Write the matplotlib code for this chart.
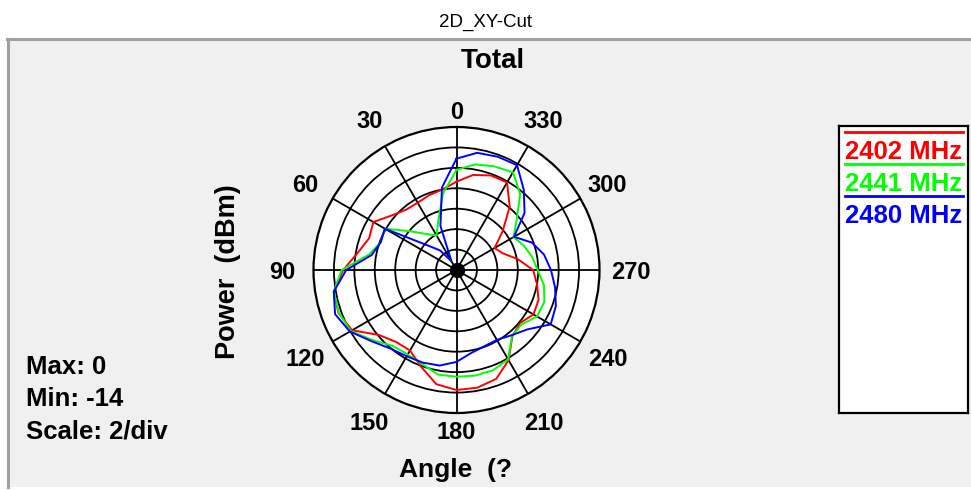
import numpy as np
import matplotlib
matplotlib.use("Agg")
import matplotlib.pyplot as plt
from matplotlib.patches import Rectangle
from matplotlib.lines import Line2D

# angles in degrees (0 at top, counter-clockwise), power in dBm
angle_deg = list(range(0, 360, 10))
p_2402 = [-5.35, -6.0, -6.2, -6.4, -6.3, -5.7, -4.6, -4.9, -4.2, -2.9, -1.8, -1.7,
          -2.2, -4.1, -4.8, -4.9, -3.9, -2.65, -2.25, -2.3, -2.65, -3.8, -5.5, -5.9,
          -5.3, -5.45, -6.0, -6.5, -7.9, -9.2, -9.7, -8.1, -5.9, -4.1, -4.15, -4.55]
p_2441 = [-4.2, -6.4, -8.8, -10.1, -9.4, -8.1, -5.9, -6.1, -5.3, -2.75, -1.8, -1.75,
          -2.05, -3.3, -4.3, -4.45, -4.2, -3.6, -3.55, -3.5, -3.55, -3.9, -5.55, -5.7,
          -4.9, -4.85, -5.3, -6.05, -6.5, -7.0, -7.55, -6.3, -4.3, -2.95, -3.2, -3.5]
p_2480 = [-3.1, -5.8, -9.4, -13.0, -11.5, -10.2, -5.9, -6.1, -5.56, -3.2, -1.8, -1.35,
          -1.95, -3.15, -3.95, -4.25, -4.35, -4.5, -5.0, -5.75, -6.05, -6.1, -5.65, -4.95,
          -3.35, -3.65, -4.2, -4.75, -5.3, -6.15, -7.5, -5.3, -3.75, -2.15, -2.2, -2.35]
series_labels = ["2402 MHz", "2441 MHz", "2480 MHz"]
series_colors = ["#ff0000", "#00ff00", "#0000ff"]

p_max, p_min, p_step = 0, -14, 2
grid_angles = list(range(0, 360, 30))

W, H = 971, 490
fig = plt.figure(figsize=(W / 100, H / 100), dpi=100, facecolor="white")
plt.rcParams['font.family'] = ['Liberation Sans', 'DejaVu Sans']

def fx(px):
    return px / W

def fy(py):
    return 1 - py / H

# grey panel behind the chart
fig.patches.append(Rectangle((fx(7), fy(487)), 1 - fx(7), fy(39) - fy(487),
                             transform=fig.transFigure, facecolor="#f0f0f0",
                             edgecolor="none", zorder=-5))
fig.lines.append(Line2D([fx(7), 1], [fy(39), fy(39)], transform=fig.transFigure,
                        color="#a0a0a0", lw=2.2, zorder=-4))
fig.lines.append(Line2D([fx(8), fx(8)], [fy(39), fy(487)], transform=fig.transFigure,
                        color="#a0a0a0", lw=2.2, zorder=-4))

fig.text(fx(485), fy(22), "2D_XY-Cut", ha="center", va="center", fontsize=13.5)
fig.text(fx(493), fy(61), "Total", ha="center", va="center", fontsize=20,
         fontweight="bold")

# polar plot
R = 143
cx, cy = 456.5, 270
ax = fig.add_axes([fx(cx - R), fy(cy + R), 2 * R / W, 2 * R / H], projection="polar")
ax.set_zorder(2)
ax.set_theta_zero_location("N")
ax.set_theta_direction(1)
ax.set_facecolor("white")
span = p_max - p_min
ax.set_ylim(0, span)

theta = np.deg2rad(angle_deg + [angle_deg[0]])
for vals, col in zip([p_2402, p_2441, p_2480], series_colors):
    r = np.array(vals + [vals[0]]) - p_min
    ax.plot(theta, r, color=col, lw=1.4, zorder=3)

ax.set_rticks(np.arange(p_step, span, p_step))
ax.set_yticklabels([])
ax.set_thetagrids(grid_angles, [""] * len(grid_angles))
ax.grid(True, color="black", lw=1.3)
ax.spines["polar"].set_color("black")
ax.spines["polar"].set_linewidth(1.6)
ax.plot(0, 0, "o", color="black", ms=10, zorder=4)

for a in grid_angles:
    t = np.deg2rad(a)
    rl = 1.12 if a in (0, 180) else 1.22
    ax.text(t, span * rl, str(a), ha="center", va="center_baseline", fontsize=17,
            fontweight="bold", clip_on=False)

fig.text(fx(228), fy(272), "Power  (dBm)", rotation=90, ha="center", va="center",
         fontsize=19.5, fontweight="bold")
fig.text(fx(455), fy(470), "Angle  (?", ha="center", va="center", fontsize=19,
         fontweight="bold")

for i, s in enumerate(["Max: %d" % p_max, "Min: %d" % p_min, "Scale: %d/div" % p_step]):
    fig.text(fx(26), fy(367 + 32 * i), s, ha="left", va="center", fontsize=18.5,
             fontweight="bold")

# legend box
lax = fig.add_axes([fx(839), fy(413), fx(968) - fx(839), fy(126) - fy(413)])
lax.set_zorder(2)
lax.set_xlim(0, 1)
lax.set_ylim(0, 1)
lax.set_xticks([])
lax.set_yticks([])
lax.set_facecolor("white")
for sp in lax.spines.values():
    sp.set_color("black")
    sp.set_linewidth(1.6)
for i, (lab, col) in enumerate(zip(series_labels, series_colors)):
    y_line = 0.978 - 0.111 * i
    lax.plot([0.047, 0.961], [y_line, y_line], color=col, lw=2)
    lax.text(0.047, y_line - 0.068, lab, color=col, ha="left", va="center",
             fontsize=18.5, fontweight="bold")

fig.savefig("out.png", dpi=100, facecolor="white")
